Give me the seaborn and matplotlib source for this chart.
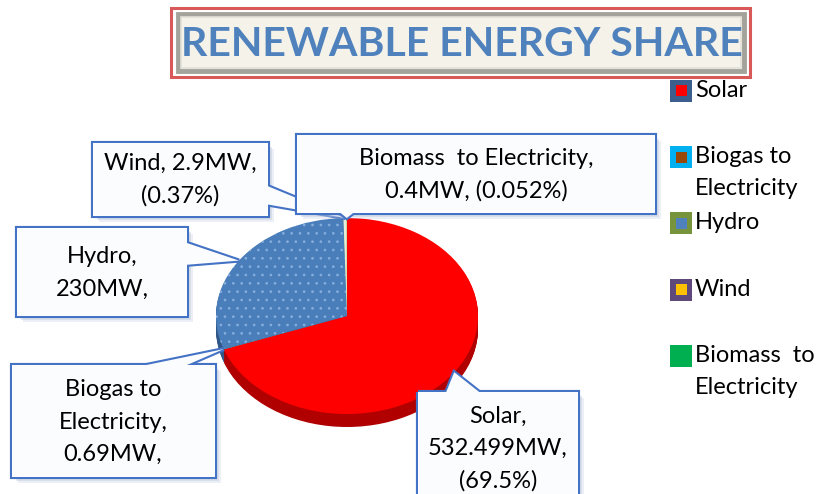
import numpy as np
import matplotlib
matplotlib.use("Agg")
import matplotlib.pyplot as plt
import seaborn as sns
from matplotlib.patches import Rectangle, Polygon

# data
sources = ["Solar", "Biogas to Electricity", "Hydro", "Wind", "Biomass  to Electricity"]
capacity_mw = [532.499, 0.69, 230, 2.9, 0.4]
legend_labels = ["Solar", "Biogas to\nElectricity", "Hydro", "Wind", "Biomass  to\nElectricity"]
callout_texts = [
    "Solar,\n532.499MW,\n(69.5%)",
    "Biogas to\nElectricity,\n0.69MW,",
    "Hydro,\n230MW,",
    "Wind, 2.9MW,\n(0.37%)",
    "Biomass  to Electricity,\n0.4MW, (0.052%)",
]

top_colors = ["#FF0000", "#4BACC6", "#4A7EBB", "#E6EDD8", "#C4D79B"]
side_colors = ["#B00000", "#31859C", "#2F5788", "#9BBB59", "#9BBB59"]
swatch_outer = ["#3B5E8C", "#00B0F0", "#77933C", "#5F497A", "#00B050"]
swatch_inner = ["#FF0000", "#984807", "#4F81BD", "#FFC000", "#00B050"]

sns.set_theme(style="white")
plt.rcParams["font.family"] = ["Lato", "DejaVu Sans"]
plt.rcParams["hatch.linewidth"] = 0.7

W, H = 821, 494
fig = plt.figure(figsize=(W / 100, H / 100), dpi=100)
fig.patch.set_facecolor("white")

# --- 3D-ish pie -------------------------------------------------------------
cx, cy, rx, ry, depth = 347, 316, 131, 98, 13
pie_ax = fig.add_axes([(cx - rx) / W, (H - cy - ry - depth) / H, 2 * rx / W, (2 * ry + depth) / H])

n_layers = 14
for k in range(n_layers, 0, -1):
    off = depth / ry * k / n_layers
    pie_ax.pie(capacity_mw, colors=side_colors, startangle=90, counterclock=False,
               center=(0, -off), wedgeprops=dict(linewidth=0))

wedges, _ = pie_ax.pie(capacity_mw, colors=top_colors, startangle=90, counterclock=False,
                       wedgeprops=dict(linewidth=0))
# dotted texture on hydro
wedges[2].set_hatch("..")
wedges[2].set_edgecolor("#86AEDD")
wedges[2].set_linewidth(0)

pie_ax.set_aspect("auto")
pie_ax.set_xlim(-1, 1)
pie_ax.set_ylim(-1 - depth / ry, 1)
pie_ax.axis("off")
for p in pie_ax.patches:
    p.set_clip_on(False)

# tips of the callouts, taken from the wedges' mid angles
tips = []
for w in wedges:
    a = np.deg2rad((w.theta1 + w.theta2) / 2)
    dx, dy = pie_ax.transData.transform((1.0 * np.cos(a), 1.0 * np.sin(a)))
    tips.append((dx, H - dy))

# --- overlay in image pixel coords (y down) --------------------------------
ov = fig.add_axes([0, 0, 1, 1], zorder=5)
ov.set_xlim(0, W)
ov.set_ylim(H, 0)
ov.axis("off")
ov.patch.set_alpha(0)

# title box
ov.add_patch(Rectangle((171, 8), 579, 69, facecolor="white", edgecolor="#D9595A", lw=2.2, zorder=1))
ov.add_patch(Rectangle((178, 14), 566, 57, facecolor="#F4F2E9", edgecolor="#A3A39B", lw=3.5, zorder=2))
ov.add_patch(Rectangle((181, 17), 560, 51, facecolor="none", edgecolor="#E2E0D6", lw=1.2, zorder=2))
ov.text(462, 56, "RENEWABLE ENERGY SHARE", ha="center", va="baseline", fontsize=29.5,
        fontweight="bold", color="#4F81BD", zorder=3)

# callout layout: box (x0, y0, x1, y1), base points of the pointer, text centre
boxes = [(418, 392, 578, 506), (12, 365, 215, 477), (17, 228, 187, 316),
         (93, 143, 268, 216), (297, 135, 655, 213)]
bases = [((445, 395), (483, 395)), ((132, 368), (180, 368)), ((184, 242), (184, 265)),
         ((265, 185), (265, 204)), ((337, 210), (357, 210))]
text_pos = [(498, 449), (113, 422), (102, 273), (180, 180), (476, 175)]

edge_blue = "#4472C4"
for i, (box, base, tp, txt) in enumerate(zip(boxes, bases, text_pos, callout_texts)):
    x0, y0, x1, y1 = box
    z = 10 + 4 * i
    for s, a in [(6, 0.25), (4, 0.35), (2, 0.4)]:
        ov.add_patch(Rectangle((x0 + s, y0 + s), x1 - x0, y1 - y0, facecolor="#B4C2D8",
                               edgecolor="none", alpha=a, zorder=z))
    tri = [base[0], tips[i], base[1]]
    # thick strokes first, white fills over them -> outline of the union
    ov.add_patch(Rectangle((x0, y0), x1 - x0, y1 - y0, facecolor="none", edgecolor=edge_blue,
                           lw=3.0, joinstyle="miter", zorder=z + 1))
    ov.add_patch(Polygon(tri, closed=True, facecolor="none", edgecolor=edge_blue, lw=3.0,
                         joinstyle="miter", zorder=z + 1))
    ov.add_patch(Rectangle((x0, y0), x1 - x0, y1 - y0, facecolor="#FBFCFE", edgecolor="none",
                           zorder=z + 2))
    ov.add_patch(Polygon(tri, closed=True, facecolor="#FBFCFE", edgecolor="none", zorder=z + 2))
    ov.text(tp[0], tp[1], txt, ha="center", va="center", fontsize=17, color="black",
            linespacing=1.65, zorder=z + 3)

# legend swatches
for i, (lab, oc, ic) in enumerate(zip(legend_labels, swatch_outer, swatch_inner)):
    yc = 91 + 66.2 * i
    ov.add_patch(Rectangle((670, yc - 11), 22, 22, facecolor=oc, edgecolor="none", zorder=40))
    ov.add_patch(Rectangle((676, yc - 5.5), 11, 11, facecolor=ic, edgecolor="none", zorder=41))
    ov.text(695, yc - 11, lab, ha="left", va="top", fontsize=17, color="black",
            linespacing=1.65, zorder=41)

fig.savefig("out.png", dpi=100)
